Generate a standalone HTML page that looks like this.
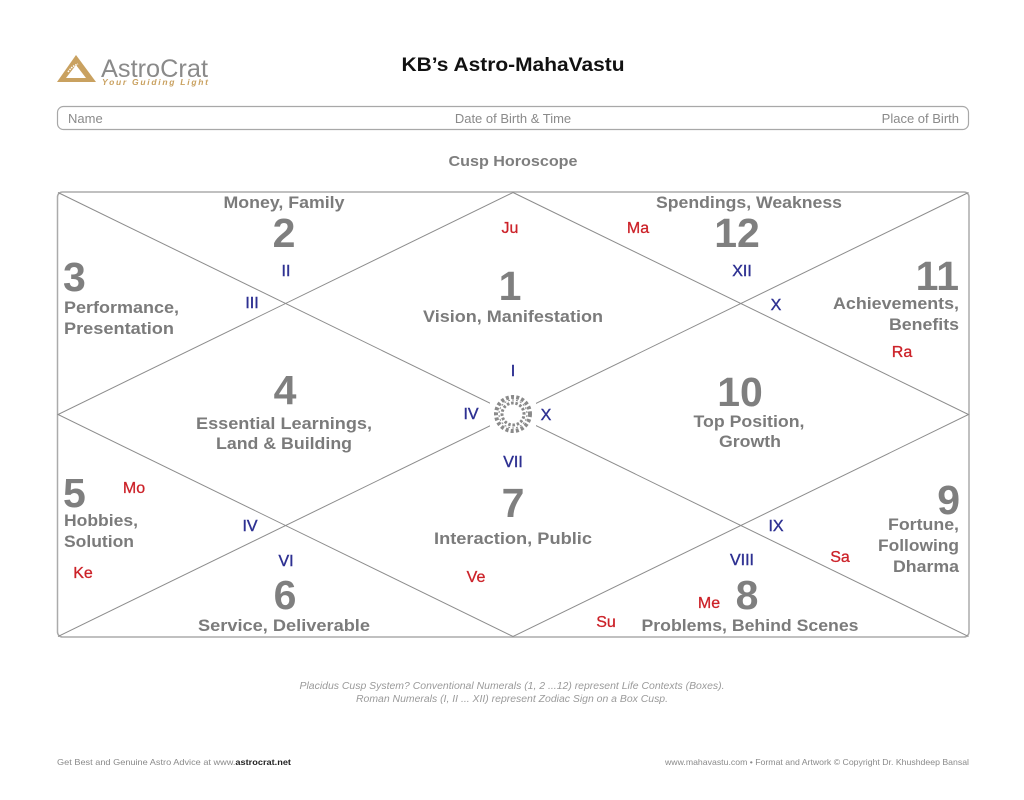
<!DOCTYPE html>
<html><head><meta charset="utf-8"><style>
html,body{margin:0;padding:0;background:#fff;}
svg{display:block;}
text{font-family:"Liberation Sans",Arial,sans-serif;}
.lb{font-weight:bold;fill:#7b7b7b;font-size:17px;}
.num{font-weight:bold;fill:#7f7f7f;font-size:41px;}
.rm{fill:#2e3192;font-size:16px;stroke:#2e3192;stroke-width:0.4;}
.pl{fill:#cc2229;font-size:16px;stroke:#cc2229;stroke-width:0.3;}
.hd{fill:#8a8a8a;font-size:13px;}
</style></head><body>
<svg width="1024" height="800" viewBox="0 0 1024 800" xmlns="http://www.w3.org/2000/svg">
<rect width="1024" height="800" fill="#fff"/>
<!-- Logo -->
<g>
<polygon points="57,82 76,55 96,82" fill="#c9a160"/>
<polygon points="66,78 76,65 86,78" fill="#fff"/>
<path d="M68,72 Q72,66 78,64" stroke="#fff" stroke-width="1.5" fill="none" stroke-dasharray="1.5,1"/>
<text x="101" y="77" font-size="25" fill="#8a8a8a" textLength="107" lengthAdjust="spacingAndGlyphs">AstroCrat</text>
<text x="102" y="85" font-size="8.5" font-weight="bold" font-style="italic" fill="#c9a160" textLength="106" lengthAdjust="spacing">Your Guiding Light</text>
</g>
<text x="513" y="71" text-anchor="middle" font-size="19" font-weight="bold" fill="#111" textLength="223" lengthAdjust="spacingAndGlyphs">KB’s Astro-MahaVastu</text>
<!-- header bar -->
<rect x="57.5" y="106.5" width="911" height="23" rx="6" fill="none" stroke="#a8a8a8" stroke-width="1.2"/>
<text x="68" y="123" class="hd">Name</text>
<text x="513" y="123" class="hd" text-anchor="middle">Date of Birth &amp; Time</text>
<text x="959" y="123" class="hd" text-anchor="end">Place of Birth</text>
<text x="513" y="166" text-anchor="middle" font-size="15" font-weight="bold" fill="#7e7e7e" textLength="129" lengthAdjust="spacingAndGlyphs">Cusp Horoscope</text>
<!-- chart -->
<rect x="57.5" y="192" width="911.5" height="445" rx="5" fill="none" stroke="#ababab" stroke-width="1.5"/>
<g stroke="#8c8c8c" stroke-width="1" fill="none">
<line x1="58" y1="192.5" x2="968.5" y2="636.5"/>
<line x1="968.5" y1="192.5" x2="58" y2="636.5"/>
<polygon points="513,192.5 968.5,414.5 513,636.5 58,414.5"/>
</g>
<!-- center emblem -->
<rect x="490" y="392" width="46" height="44" fill="#fff"/>
<g transform="translate(513,414)" fill="none" stroke="#8a8a8a">
<circle r="17" stroke-width="4" stroke-dasharray="3,2.2"/>
<circle r="11" stroke-width="3" stroke-dasharray="2.5,1.8" transform="rotate(12)"/>
<circle r="14" stroke-width="1" stroke-dasharray="2,2" transform="rotate(20)"/>
</g>
<!-- House 1 -->
<text x="510" y="233" class="pl" text-anchor="middle">Ju</text>
<text x="510" y="300" class="num" text-anchor="middle">1</text>
<text x="513" y="322" class="lb" text-anchor="middle" textLength="180" lengthAdjust="spacingAndGlyphs">Vision, Manifestation</text>
<!-- House 2 -->
<text x="284" y="208" class="lb" text-anchor="middle" textLength="121" lengthAdjust="spacingAndGlyphs">Money, Family</text>
<text x="284" y="247" class="num" text-anchor="middle">2</text>
<text x="286" y="276" class="rm" text-anchor="middle">II</text>
<text x="252" y="308" class="rm" text-anchor="middle">III</text>
<!-- House 3 -->
<text x="63" y="291" class="num">3</text>
<text x="64" y="313" class="lb" textLength="115" lengthAdjust="spacingAndGlyphs">Performance,</text>
<text x="64" y="334" class="lb" textLength="110" lengthAdjust="spacingAndGlyphs">Presentation</text>
<!-- House 4 -->
<text x="285" y="404" class="num" text-anchor="middle">4</text>
<text x="284" y="429" class="lb" text-anchor="middle" textLength="176" lengthAdjust="spacingAndGlyphs">Essential Learnings,</text>
<text x="284" y="449" class="lb" text-anchor="middle" textLength="136" lengthAdjust="spacingAndGlyphs">Land &amp; Building</text>
<!-- center numerals -->
<text x="513" y="376" class="rm" text-anchor="middle">I</text>
<text x="471" y="419" class="rm" text-anchor="middle">IV</text>
<text x="546" y="420" class="rm" text-anchor="middle">X</text>
<text x="513" y="467" class="rm" text-anchor="middle">VII</text>
<!-- House 12 -->
<text x="638" y="233" class="pl" text-anchor="middle">Ma</text>
<text x="749" y="208" class="lb" text-anchor="middle" textLength="186" lengthAdjust="spacingAndGlyphs">Spendings, Weakness</text>
<text x="737" y="247" class="num" text-anchor="middle">12</text>
<text x="742" y="276" class="rm" text-anchor="middle">XII</text>
<text x="776" y="310" class="rm" text-anchor="middle">X</text>
<!-- House 11 -->
<text x="959" y="290" class="num" text-anchor="end">11</text>
<text x="959" y="309" class="lb" text-anchor="end" textLength="126" lengthAdjust="spacingAndGlyphs">Achievements,</text>
<text x="959" y="330" class="lb" text-anchor="end" textLength="70" lengthAdjust="spacingAndGlyphs">Benefits</text>
<text x="902" y="357" class="pl" text-anchor="middle">Ra</text>
<!-- House 10 -->
<text x="740" y="406" class="num" text-anchor="middle">10</text>
<text x="749" y="427" class="lb" text-anchor="middle" textLength="111" lengthAdjust="spacingAndGlyphs">Top Position,</text>
<text x="750" y="447" class="lb" text-anchor="middle" textLength="62" lengthAdjust="spacingAndGlyphs">Growth</text>
<!-- House 5 -->
<text x="63" y="507" class="num">5</text>
<text x="134" y="493" class="pl" text-anchor="middle">Mo</text>
<text x="64" y="526" class="lb" textLength="74" lengthAdjust="spacingAndGlyphs">Hobbies,</text>
<text x="64" y="547" class="lb" textLength="70" lengthAdjust="spacingAndGlyphs">Solution</text>
<text x="83" y="578" class="pl" text-anchor="middle">Ke</text>
<!-- House 6 -->
<text x="250" y="531" class="rm" text-anchor="middle">IV</text>
<text x="286" y="566" class="rm" text-anchor="middle">VI</text>
<text x="285" y="609" class="num" text-anchor="middle">6</text>
<text x="284" y="631" class="lb" text-anchor="middle" textLength="172" lengthAdjust="spacingAndGlyphs">Service, Deliverable</text>
<!-- House 7 -->
<text x="513" y="517" class="num" text-anchor="middle">7</text>
<text x="513" y="544" class="lb" text-anchor="middle" textLength="158" lengthAdjust="spacingAndGlyphs">Interaction, Public</text>
<text x="476" y="582" class="pl" text-anchor="middle">Ve</text>
<!-- House 8 -->
<text x="776" y="531" class="rm" text-anchor="middle">IX</text>
<text x="742" y="565" class="rm" text-anchor="middle">VIII</text>
<text x="709" y="608" class="pl" text-anchor="middle">Me</text>
<text x="747" y="609" class="num" text-anchor="middle">8</text>
<text x="606" y="627" class="pl" text-anchor="middle">Su</text>
<text x="750" y="631" class="lb" text-anchor="middle" textLength="217" lengthAdjust="spacingAndGlyphs">Problems, Behind Scenes</text>
<!-- House 9 -->
<text x="840" y="562" class="pl" text-anchor="middle">Sa</text>
<text x="960" y="514" class="num" text-anchor="end">9</text>
<text x="959" y="530" class="lb" text-anchor="end" textLength="71" lengthAdjust="spacingAndGlyphs">Fortune,</text>
<text x="959" y="551" class="lb" text-anchor="end" textLength="81" lengthAdjust="spacingAndGlyphs">Following</text>
<text x="959" y="572" class="lb" text-anchor="end" textLength="66" lengthAdjust="spacingAndGlyphs">Dharma</text>
<!-- notes -->
<text x="512" y="689" text-anchor="middle" font-size="10" font-style="italic" fill="#9a9a9a" textLength="425" lengthAdjust="spacingAndGlyphs">Placidus Cusp System? Conventional Numerals (1, 2 ...12) represent Life Contexts (Boxes).</text>
<text x="512" y="702" text-anchor="middle" font-size="10" font-style="italic" fill="#9a9a9a" textLength="312" lengthAdjust="spacingAndGlyphs">Roman Numerals (I, II ... XII) represent Zodiac Sign on a Box Cusp.</text>
<!-- footer -->
<text x="57" y="765" font-size="8.5" fill="#8a8a8a" textLength="234" lengthAdjust="spacingAndGlyphs">Get Best and Genuine Astro Advice at www.<tspan font-weight="bold" fill="#222">astrocrat.net</tspan></text>
<text x="969" y="765" font-size="8.5" fill="#8a8a8a" text-anchor="end" textLength="304" lengthAdjust="spacingAndGlyphs">www.mahavastu.com • Format and Artwork © Copyright Dr. Khushdeep Bansal</text>
</svg>
</body></html>
